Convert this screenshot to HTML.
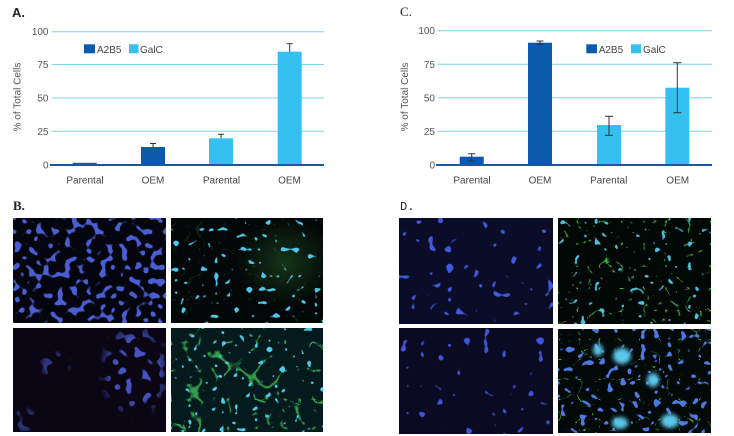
<!DOCTYPE html>
<html><head><meta charset="utf-8"><style>
html,body{margin:0;padding:0;background:#fff;}
svg{display:block;}
text{font-family:"Liberation Sans",sans-serif;}
</style></head><body>
<svg width="734" height="436" viewBox="0 0 734 436" xmlns="http://www.w3.org/2000/svg">
<defs>
<filter id="fB1" filterUnits="userSpaceOnUse" x="13" y="218" width="153" height="105" color-interpolation-filters="sRGB">
<feTurbulence type="fractalNoise" baseFrequency="0.14" numOctaves="1" seed="7"/>
<feColorMatrix type="matrix" values="0 0 0 0 0.29  0 0 0 0 0.37  0 0 0 0 0.82  16 0 0 0 -9.0" />
</filter>
<filter id="fB2" filterUnits="userSpaceOnUse" x="171" y="218" width="152" height="105" color-interpolation-filters="sRGB">
<feTurbulence type="fractalNoise" baseFrequency="0.15" numOctaves="1" seed="11"/>
<feColorMatrix type="matrix" values="0 0 0 0 0.3  0 0 0 0 0.78  0 0 0 0 0.92  24 0 0 0 -16.1" />
</filter>
<filter id="fB2g" filterUnits="userSpaceOnUse" x="171" y="218" width="152" height="105" color-interpolation-filters="sRGB">
<feTurbulence type="turbulence" baseFrequency="0.04" numOctaves="2" seed="5"/>
<feColorMatrix type="matrix" values="0 0 0 0 0.2  0 0 0 0 0.55  0 0 0 0 0.25  -14 0 0 0 0.5" />
</filter>
<filter id="fB3" filterUnits="userSpaceOnUse" x="13" y="328" width="153" height="104" color-interpolation-filters="sRGB">
<feTurbulence type="fractalNoise" baseFrequency="0.12" numOctaves="1" seed="3"/>
<feColorMatrix type="matrix" values="0 0 0 0 0.3  0 0 0 0 0.34  0 0 0 0 0.8  16 0 0 0 -9.2" />
</filter>
<filter id="fB4g" filterUnits="userSpaceOnUse" x="171" y="328" width="152" height="104" color-interpolation-filters="sRGB">
<feTurbulence type="turbulence" baseFrequency="0.035" numOctaves="2" seed="9"/>
<feColorMatrix type="matrix" values="0 0 0 0 0.2  0 0 0 0 0.62  0 0 0 0 0.3  -18 0 0 0 1.4" />
</filter>
<filter id="fB4c" filterUnits="userSpaceOnUse" x="171" y="328" width="152" height="104" color-interpolation-filters="sRGB">
<feTurbulence type="fractalNoise" baseFrequency="0.15" numOctaves="1" seed="21"/>
<feColorMatrix type="matrix" values="0 0 0 0 0.3  0 0 0 0 0.8  0 0 0 0 0.92  24 0 0 0 -16.0" />
</filter>
<filter id="fD1" filterUnits="userSpaceOnUse" x="399" y="218" width="154" height="106" color-interpolation-filters="sRGB">
<feTurbulence type="fractalNoise" baseFrequency="0.11" numOctaves="1" seed="2"/>
<feColorMatrix type="matrix" values="0 0 0 0 0.25  0 0 0 0 0.35  0 0 0 0 0.86  24 0 0 0 -16.1" />
</filter>
<filter id="fD2g" filterUnits="userSpaceOnUse" x="558" y="218" width="153" height="106" color-interpolation-filters="sRGB">
<feTurbulence type="turbulence" baseFrequency="0.045" numOctaves="2" seed="14"/>
<feColorMatrix type="matrix" values="0 0 0 0 0.25  0 0 0 0 0.72  0 0 0 0 0.3  -20 0 0 0 1.2" />
</filter>
<filter id="fD2c" filterUnits="userSpaceOnUse" x="558" y="218" width="153" height="106" color-interpolation-filters="sRGB">
<feTurbulence type="fractalNoise" baseFrequency="0.15" numOctaves="1" seed="31"/>
<feColorMatrix type="matrix" values="0 0 0 0 0.3  0 0 0 0 0.75  0 0 0 0 0.88  24 0 0 0 -16.1" />
</filter>
<filter id="fD3" filterUnits="userSpaceOnUse" x="399" y="328" width="154" height="106" color-interpolation-filters="sRGB">
<feTurbulence type="fractalNoise" baseFrequency="0.11" numOctaves="1" seed="6"/>
<feColorMatrix type="matrix" values="0 0 0 0 0.25  0 0 0 0 0.33  0 0 0 0 0.85  24 0 0 0 -16.4" />
</filter>
<filter id="fD4" filterUnits="userSpaceOnUse" x="558" y="329" width="153" height="104" color-interpolation-filters="sRGB">
<feTurbulence type="fractalNoise" baseFrequency="0.15" numOctaves="1" seed="8"/>
<feColorMatrix type="matrix" values="0 0 0 0 0.3  0 0 0 0 0.48  0 0 0 0 0.88  22 0 0 0 -13.8" />
</filter>
<filter id="fD4g" filterUnits="userSpaceOnUse" x="558" y="329" width="153" height="104" color-interpolation-filters="sRGB">
<feTurbulence type="turbulence" baseFrequency="0.05" numOctaves="2" seed="17"/>
<feColorMatrix type="matrix" values="0 0 0 0 0.25  0 0 0 0 0.72  0 0 0 0 0.3  -22 0 0 0 0.9" />
</filter>
<filter id="blur2"><feGaussianBlur stdDeviation="2"/></filter>
<radialGradient id="gB2" cx="0.5" cy="0.5" r="0.5">
<stop offset="0" stop-color="#2a6a2a" stop-opacity="0.45"/>
<stop offset="1" stop-color="#2a6a2a" stop-opacity="0"/>
</radialGradient>
<radialGradient id="mB3g" cx="0.5" cy="0.5" r="0.5">
<stop offset="0" stop-color="#fff" stop-opacity="1"/>
<stop offset="0.6" stop-color="#fff" stop-opacity="0.9"/>
<stop offset="1" stop-color="#fff" stop-opacity="0"/>
</radialGradient>
<mask id="mB3" maskUnits="userSpaceOnUse" x="13" y="328" width="153" height="104">
<rect x="13" y="328" width="153" height="104" fill="#000"/>
<ellipse cx="135" cy="370" rx="38" ry="52" fill="url(#mB3g)"/>
<ellipse cx="55" cy="365" rx="18" ry="16" fill="url(#mB3g)" opacity="0.6"/>
<ellipse cx="25" cy="420" rx="14" ry="14" fill="url(#mB3g)" opacity="0.6"/>
</mask>
<clipPath id="cB2"><rect x="171" y="218" width="152" height="105"/></clipPath>
<clipPath id="cD4"><rect x="558" y="329" width="153" height="104"/></clipPath>
</defs>

<!-- Panel labels -->
<text x="12" y="17" font-size="13" fill="#222" font-weight="bold">A.</text>
<text x="400" y="16" font-size="13" fill="#222" style="font-family:'Liberation Serif',serif">C.</text>
<text x="13" y="210" font-size="13" fill="#222" font-weight="bold" style="font-family:'Liberation Serif',serif">B.</text>
<text x="400" y="210" font-size="12" fill="#222" style="font-family:'Liberation Mono',monospace">D.</text>

<!-- Chart A -->
<g stroke="#7fd4ee" stroke-width="1">
<line x1="51.5" y1="31.7" x2="324" y2="31.7"/>
<line x1="51.5" y1="64.5" x2="324" y2="64.5"/>
<line x1="51.5" y1="98" x2="324" y2="98"/>
<line x1="51.5" y1="131.3" x2="324" y2="131.3"/>
</g>
<g font-size="10" fill="#555" text-anchor="end">
<text x="48.5" y="35">100</text>
<text x="48.5" y="68">75</text>
<text x="48.5" y="101.5">50</text>
<text x="48.5" y="135">25</text>
<text x="48.5" y="168.5">0</text>
</g>
<text x="20.5" y="97" font-size="10" fill="#555" text-anchor="middle" transform="rotate(-90 20.5 97)">% of Total Cells</text>
<rect x="72.7" y="162.8" width="24" height="2.2" fill="#0b5aab"/>
<rect x="141" y="147" width="24" height="18" fill="#0b5aab"/>
<rect x="209" y="138.3" width="24" height="26.7" fill="#35c1f0"/>
<rect x="277.7" y="51.7" width="24" height="113.3" fill="#35c1f0"/>
<g stroke="#333" stroke-width="1">
<line x1="153" y1="143.5" x2="153" y2="147"/><line x1="150" y1="143.5" x2="156" y2="143.5"/>
<line x1="221" y1="134.3" x2="221" y2="138.3"/><line x1="218" y1="134.3" x2="224" y2="134.3"/>
<line x1="289.7" y1="43.7" x2="289.7" y2="51.7"/><line x1="286.7" y1="43.7" x2="292.7" y2="43.7"/>
</g>
<line x1="50" y1="165" x2="324" y2="165" stroke="#1b56a4" stroke-width="2"/>
<rect x="84" y="44.3" width="11" height="9" fill="#0b5aab"/>
<text x="97" y="53" font-size="10" fill="#444">A2B5</text>
<rect x="129" y="44.3" width="9.5" height="9" fill="#35c1f0"/>
<text x="140" y="53" font-size="10" fill="#444">GalC</text>
<g font-size="10" fill="#444" text-anchor="middle">
<text x="85" y="183.5">Parental</text>
<text x="153" y="183.5">OEM</text>
<text x="221.5" y="183.5">Parental</text>
<text x="289.5" y="183.5">OEM</text>
</g>

<!-- Chart C -->
<g stroke="#7fd4ee" stroke-width="1">
<line x1="437.5" y1="30.7" x2="712" y2="30.7"/>
<line x1="437.5" y1="64.3" x2="712" y2="64.3"/>
<line x1="437.5" y1="97.8" x2="712" y2="97.8"/>
<line x1="437.5" y1="131.3" x2="712" y2="131.3"/>
</g>
<g font-size="10" fill="#555" text-anchor="end">
<text x="435" y="34">100</text>
<text x="435" y="67.8">75</text>
<text x="435" y="101.3">50</text>
<text x="435" y="134.8">25</text>
<text x="435" y="168.5">0</text>
</g>
<text x="408" y="97" font-size="10" fill="#555" text-anchor="middle" transform="rotate(-90 408 97)">% of Total Cells</text>
<rect x="459.7" y="156.7" width="24" height="8.3" fill="#0b5aab"/>
<rect x="528" y="42.7" width="24" height="122.3" fill="#0b5aab"/>
<rect x="597" y="125" width="24" height="40" fill="#35c1f0"/>
<rect x="665.3" y="87.7" width="24" height="77.3" fill="#35c1f0"/>
<g stroke="#333" stroke-width="1">
<line x1="471.7" y1="153.7" x2="471.7" y2="161"/><line x1="468.2" y1="153.7" x2="475.2" y2="153.7"/><line x1="468.2" y1="161" x2="475.2" y2="161"/>
<line x1="540" y1="41" x2="540" y2="44.3"/><line x1="536.5" y1="41" x2="543.5" y2="41"/><line x1="536.5" y1="44.3" x2="543.5" y2="44.3"/>
<line x1="609" y1="116.3" x2="609" y2="135.3"/><line x1="605" y1="116.3" x2="613" y2="116.3"/><line x1="605" y1="135.3" x2="613" y2="135.3"/>
<line x1="677.3" y1="62.7" x2="677.3" y2="112.7"/><line x1="673.3" y1="62.7" x2="681.3" y2="62.7"/><line x1="673.3" y1="112.7" x2="681.3" y2="112.7"/>
</g>
<line x1="436" y1="165" x2="712" y2="165" stroke="#1b56a4" stroke-width="2"/>
<rect x="586.3" y="44.3" width="10.7" height="9" fill="#0b5aab"/>
<text x="598.7" y="53" font-size="10" fill="#444">A2B5</text>
<rect x="631" y="44.3" width="10" height="9" fill="#35c1f0"/>
<text x="643" y="53" font-size="10" fill="#444">GalC</text>
<g font-size="10" fill="#444" text-anchor="middle">
<text x="472" y="183.5">Parental</text>
<text x="540" y="183.5">OEM</text>
<text x="608.7" y="183.5">Parental</text>
<text x="677.7" y="183.5">OEM</text>
</g>

<!-- B images -->
<rect x="13" y="218" width="153" height="105" fill="#04050f"/>
<rect x="13" y="218" width="153" height="105" filter="url(#fB1)"/>

<rect x="171" y="218" width="152" height="105" fill="#030707"/>
<g clip-path="url(#cB2)"><ellipse cx="285" cy="262" rx="50" ry="45" fill="url(#gB2)"/></g>
<rect x="171" y="218" width="152" height="105" filter="url(#fB2g)" opacity="0.5"/>
<rect x="171" y="218" width="152" height="105" filter="url(#fB2)"/>

<rect x="13" y="328" width="153" height="104" fill="#0a0614"/>
<g mask="url(#mB3)"><rect x="13" y="328" width="153" height="104" filter="url(#fB3)"/></g>

<rect x="171" y="328" width="152" height="104" fill="#041a1c"/>
<rect x="171" y="328" width="152" height="104" filter="url(#fB4g)"/>
<rect x="171" y="328" width="152" height="104" filter="url(#fB4c)"/>

<!-- D images -->
<rect x="399" y="218" width="154" height="106" fill="#0a0c28"/>
<rect x="399" y="218" width="154" height="106" filter="url(#fD1)"/>

<rect x="558" y="218" width="153" height="106" fill="#020805"/>
<rect x="558" y="218" width="153" height="106" filter="url(#fD2g)"/>
<rect x="558" y="218" width="153" height="106" filter="url(#fD2c)"/>

<rect x="399" y="328" width="154" height="106" fill="#0a0a22"/>
<rect x="399" y="328" width="154" height="106" filter="url(#fD3)"/>

<rect x="558" y="329" width="153" height="104" fill="#030808"/>
<rect x="558" y="329" width="153" height="104" filter="url(#fD4g)"/>
<rect x="558" y="329" width="153" height="104" filter="url(#fD4)"/>
<g clip-path="url(#cD4)"><g fill="#5cc8e8" filter="url(#blur2)">
<ellipse cx="622" cy="356" rx="9" ry="8"/>
<ellipse cx="653" cy="380" rx="6" ry="7"/>
<ellipse cx="670" cy="421" rx="9" ry="7"/>
<ellipse cx="620" cy="423" rx="8" ry="6"/>
<ellipse cx="598" cy="350" rx="5" ry="6"/>
</g></g>
</svg>
</body></html>
